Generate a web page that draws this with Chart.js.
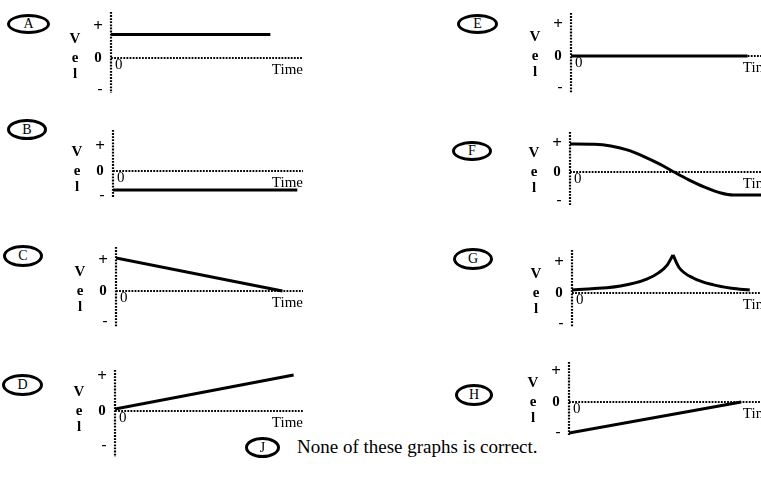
<!DOCTYPE html>
<html>
<head>
<meta charset="utf-8">
<title>Velocity graphs</title>
<script src="https://cdn.jsdelivr.net/npm/chart.js@4.4.0/dist/chart.umd.min.js"></script>
<style>
  body {
    margin: 0;
    width: 761px;
    height: 481px;
    overflow: hidden;
    position: relative;
    background: #fff;
    font-family: 'Liberation Serif', 'Times New Roman', serif;
    color: #000;
  }
  .panel { position: absolute; }
  .tag {
    position: absolute;
    box-sizing: border-box;
    border: 3px solid #000;
    border-radius: 50%;
    text-align: center;
    font-size: 14px;
  }
  #note {
    position: absolute;
    left: 297px;
    top: 436px;
    font-size: 19px;
    line-height: normal;
    white-space: nowrap;
  }
</style>
</head>
<body>
<div id="note">None of these graphs is correct.</div>
<script>
// Values (time runs 0..1 along the axis, velocity +1 / 0 / -1)
const timeA = [0, 0.83];
const velA = [0.76, 0.76];

const timeB = [0, 0.97];
const velB = [-0.79, -0.79];

const timeC = [0, 0.89];
const velC = [1.1, 0];

const timeD = [0, 0.95];
const velD = [0.06, 1.06];

const timeE = [0, 0.87];
const velE = [0, 0];

const timeF = [0, 0.12, 0.20, 0.28, 0.36, 0.44, 0.51, 0.58, 0.66, 0.74, 0.80, 1.0];
const velF = [1.0, 0.99, 0.93, 0.79, 0.56, 0.28, 0, -0.27, -0.54, -0.75, -0.82, -0.82];

// G has a sharp peak, so it is two pieces meeting at the top
const timeGup = [0, 0.24, 0.37, 0.43, 0.47, 0.50];
const velGup = [0.1, 0.23, 0.46, 0.68, 0.92, 1.27];
const timeGdown = [0.50, 0.53, 0.60, 0.70, 0.79, 0.88];
const velGdown = [1.27, 0.85, 0.50, 0.27, 0.16, 0.1];

const timeH = [0, 0.84];
const velH = [-1.03, 0];

const letters = ['A', 'B', 'C', 'D', 'E', 'F', 'G', 'H'];

// where each graph sits on the page
const layout = {
    A: { axisX: 111, xEnd: 303, zeroY: 58,  unit: 31, top: 12,  bottom: 93,  tag: [7, 14, 43, 20] },
    B: { axisX: 113, xEnd: 303, zeroY: 171, unit: 24, top: 130, bottom: 197, tag: [7, 119, 40, 21] },
    C: { axisX: 116, xEnd: 303, zeroY: 291, unit: 30, top: 247, bottom: 327, tag: [3, 245, 40, 22] },
    D: { axisX: 115, xEnd: 303, zeroY: 411, unit: 34, top: 370, bottom: 457, tag: [2, 374, 41, 22] },
    E: { axisX: 571, xEnd: 774, zeroY: 56,  unit: 31, top: 13,  bottom: 93,  tag: [457, 14, 41, 20] },
    F: { axisX: 570, xEnd: 774, zeroY: 172, unit: 28, top: 132, bottom: 205, tag: [452, 141, 40, 20] },
    G: { axisX: 572, xEnd: 774, zeroY: 293, unit: 30, top: 250, bottom: 327, tag: [453, 248, 40, 22] },
    H: { axisX: 569, xEnd: 774, zeroY: 402, unit: 30, top: 362, bottom: 436, tag: [455, 384, 38, 22] }
};
const noteTag = [245, 437, 35, 21];

const series = {
    A: [[timeA, velA]],
    B: [[timeB, velB]],
    C: [[timeC, velC]],
    D: [[timeD, velD]],
    E: [[timeE, velE]],
    F: [[timeF, velF]],
    G: [[timeGup, velGup], [timeGdown, velGdown]],
    H: [[timeH, velH]]
};

const PAD_LEFT = 50;
const PAD_RIGHT = 5;
const PAD_V = 4;

// dotted axes and the hand-written labels
const velAxes = {
    id: 'velAxes',
    beforeDatasetsDraw(chart) {
        const { ctx, chartArea, scales: { x, y } } = chart;
        const x0 = x.getPixelForValue(0);
        const x1 = x.getPixelForValue(1);
        const y0 = y.getPixelForValue(0);

        ctx.save();
        ctx.strokeStyle = '#000';
        ctx.lineWidth = 2.2;
        ctx.setLineDash([1.8, 1.3]);
        ctx.beginPath();
        ctx.moveTo(x0, chartArea.top);
        ctx.lineTo(x0, chartArea.bottom);
        ctx.stroke();
        ctx.beginPath();
        ctx.moveTo(x0, y0);
        ctx.lineTo(x1, y0);
        ctx.stroke();
        ctx.setLineDash([]);

        ctx.fillStyle = '#000';
        ctx.textBaseline = 'middle';
        ctx.textAlign = 'center';
        ctx.font = 'bold 17px "Liberation Serif"';
        ctx.fillText('+', x0 - 13, y.getPixelForValue(1));
        ctx.font = 'bold 15px "Liberation Serif"';
        ctx.fillText('0', x0 - 13, y0);
        ctx.fillText('-', x0 - 11, y.getPixelForValue(-1));
        ctx.fillText('V', x0 - 36, y0 - 19);
        ctx.fillText('e', x0 - 36, y0);
        ctx.fillText('l', x0 - 36, y0 + 16);

        ctx.font = '15px "Liberation Serif"';
        ctx.textAlign = 'left';
        ctx.fillText('0', x0 + 4, y0 + 7);
        ctx.textAlign = 'right';
        ctx.fillText('Time', x1, y0 + 12);
        ctx.restore();
    }
};

function addTag(letter, box) {
    const el = document.createElement('div');
    el.className = 'tag';
    el.style.left = box[0] + 'px';
    el.style.top = box[1] + 'px';
    el.style.width = box[2] + 'px';
    el.style.height = box[3] + 'px';
    el.style.lineHeight = (box[3] - 6) + 'px';
    el.textContent = letter;
    document.body.appendChild(el);
}

function drawPanel(letter) {
    const g = layout[letter];
    const wrap = document.createElement('div');
    wrap.className = 'panel';
    const w = (g.xEnd - g.axisX) + PAD_LEFT + PAD_RIGHT;
    const h = (g.bottom - g.top) + PAD_V * 2;
    wrap.style.left = (g.axisX - PAD_LEFT) + 'px';
    wrap.style.top = (g.top - PAD_V) + 'px';
    wrap.style.width = w + 'px';
    wrap.style.height = h + 'px';
    const canvas = document.createElement('canvas');
    canvas.width = w;
    canvas.height = h;
    wrap.appendChild(canvas);
    document.body.appendChild(wrap);

    const datasets = series[letter].map(([times, vels]) => ({
        data: times.map((t, i) => ({ x: t, y: vels[i] })),
        borderColor: '#000',
        borderWidth: 3,
        pointRadius: 0,
        fill: false,
        cubicInterpolationMode: times.length > 2 ? 'monotone' : 'default',
        tension: 0,
        borderCapStyle: 'butt'
    }));

    new Chart(canvas, {
        type: 'line',
        data: { datasets },
        options: {
            responsive: false,
            animation: false,
            events: [],
            devicePixelRatio: 1,
            layout: { padding: { left: PAD_LEFT, right: PAD_RIGHT, top: PAD_V, bottom: PAD_V } },
            plugins: { legend: { display: false }, tooltip: { enabled: false } },
            scales: {
                x: { type: 'linear', display: false, min: 0, max: 1 },
                y: {
                    type: 'linear',
                    display: false,
                    min: -(g.bottom - g.zeroY) / g.unit,
                    max: (g.zeroY - g.top) / g.unit
                }
            }
        },
        plugins: [velAxes]
    });

    addTag(letter, g.tag);
}

letters.forEach(drawPanel);
addTag('J', noteTag);
</script>
</body>
</html>
